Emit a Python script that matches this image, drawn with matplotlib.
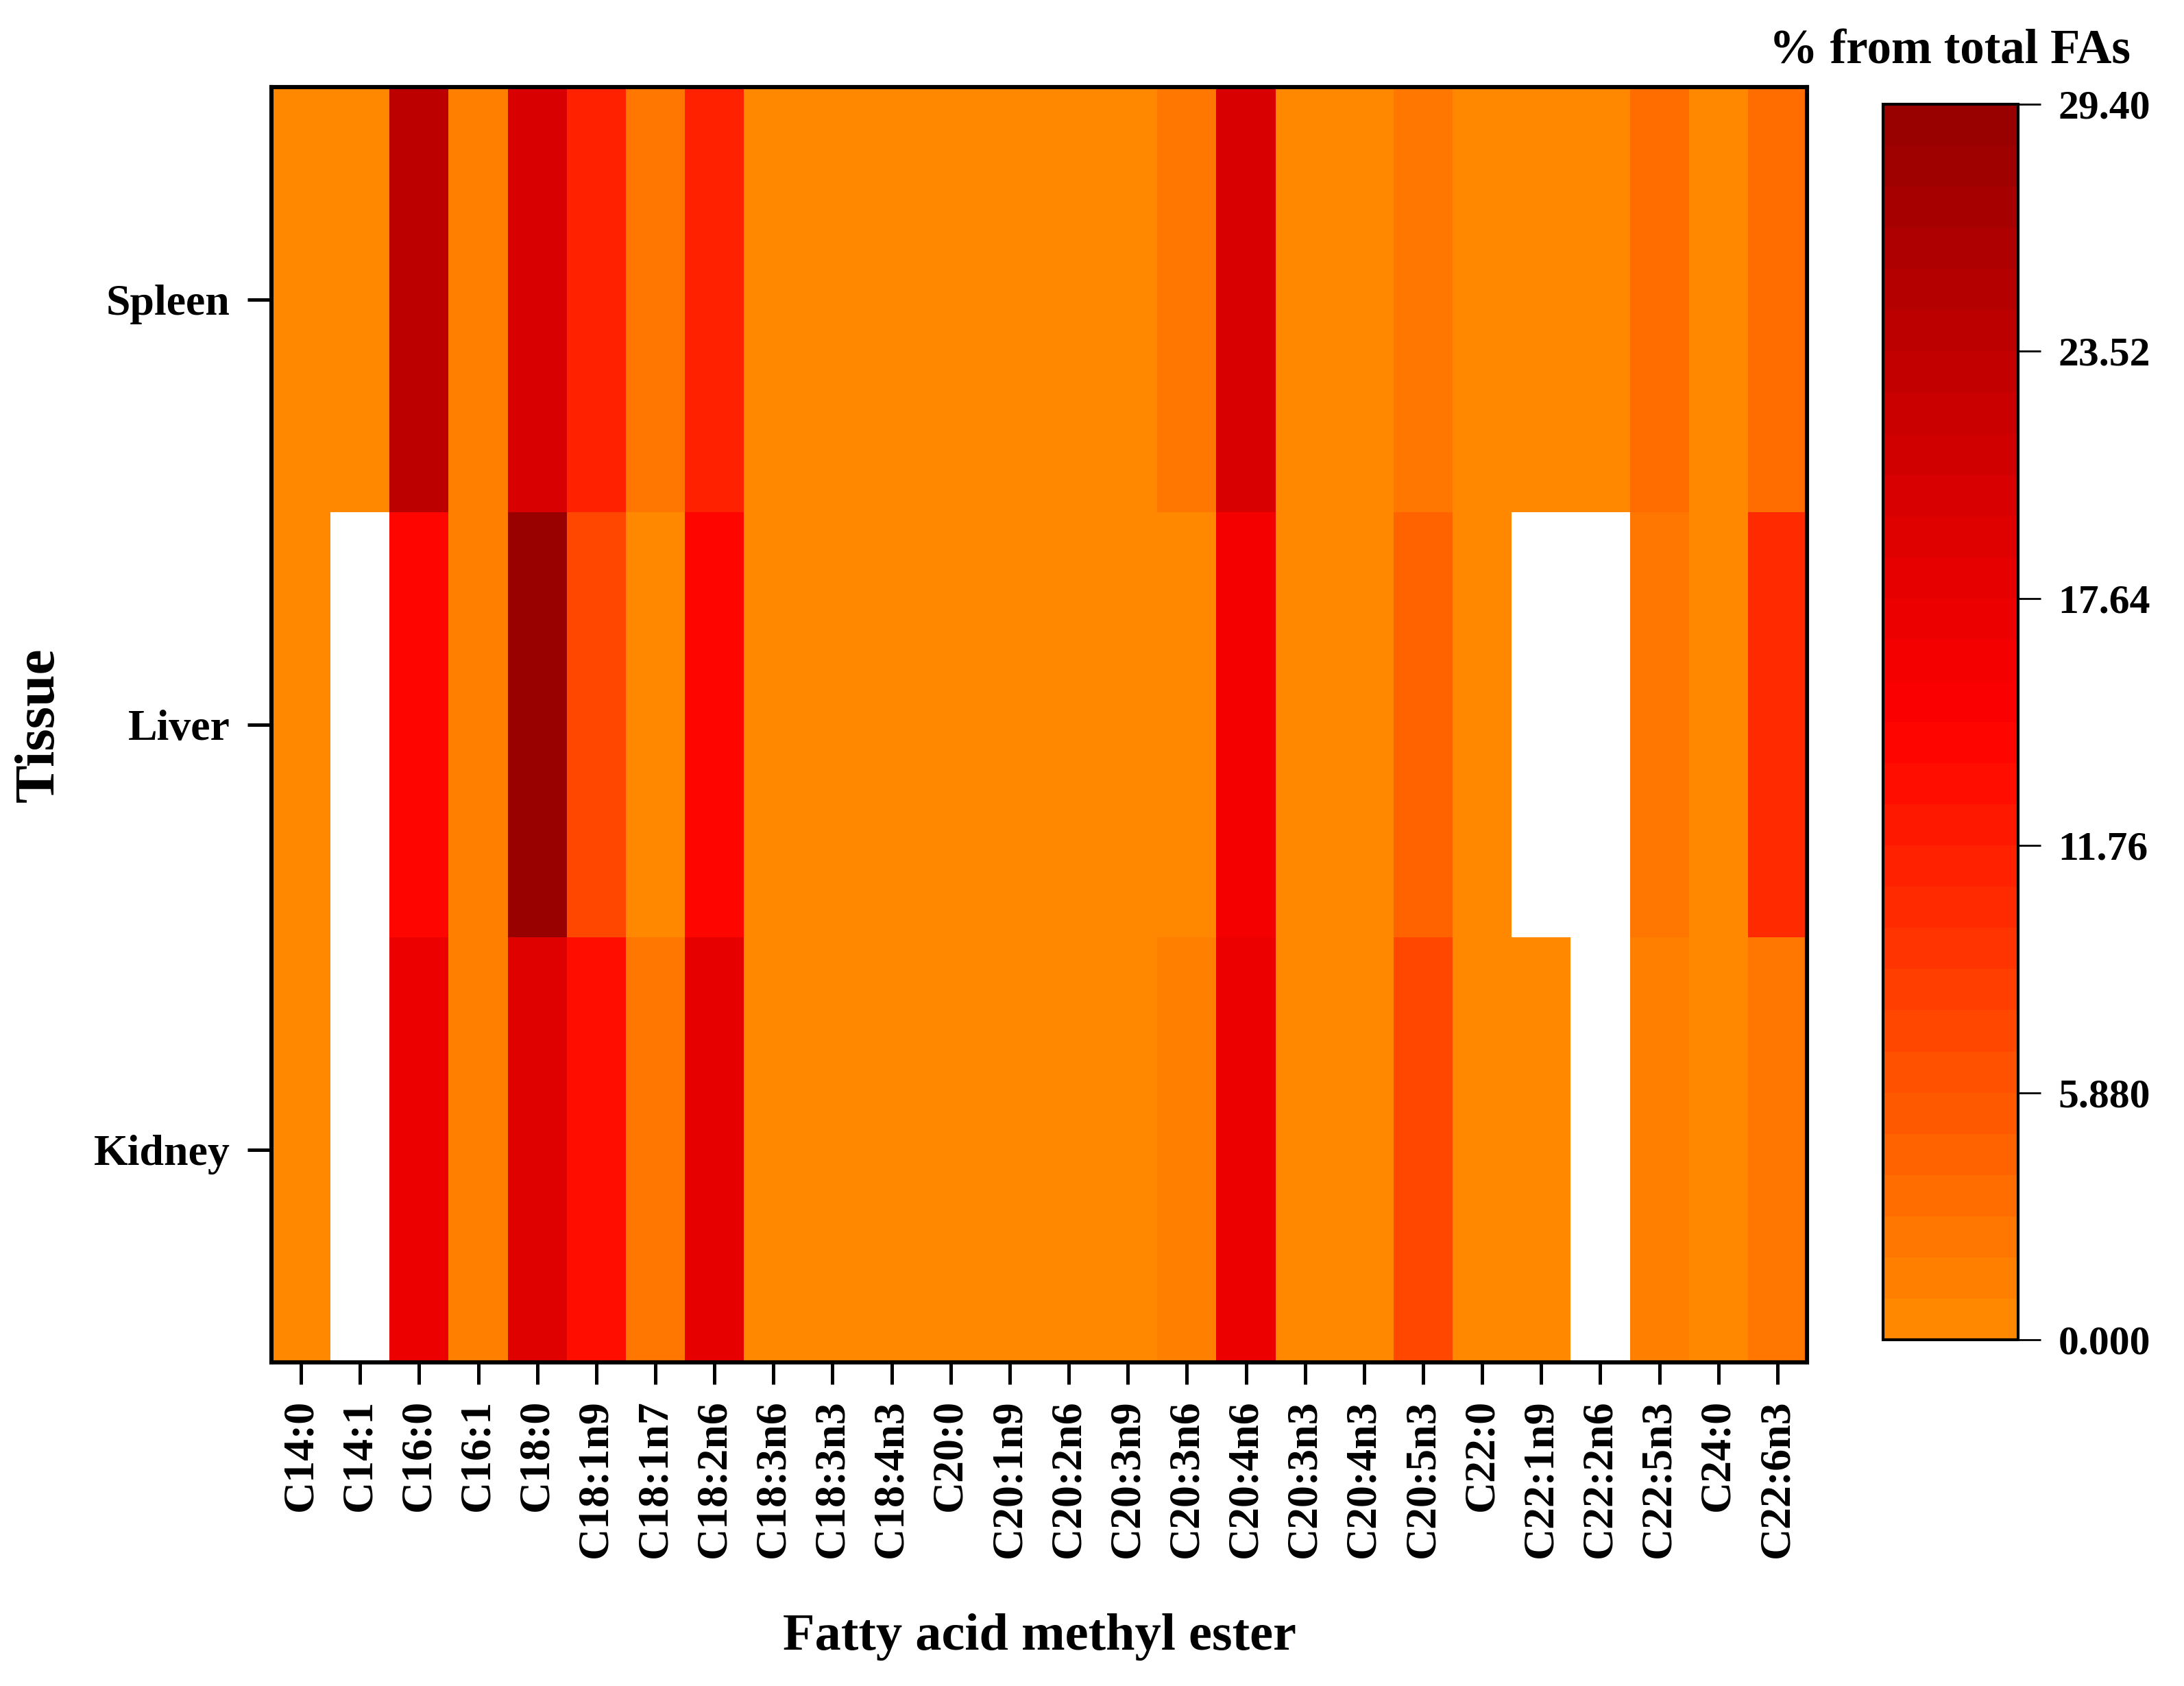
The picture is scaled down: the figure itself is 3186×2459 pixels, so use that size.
import numpy as np
import matplotlib
matplotlib.use("Agg")
import matplotlib.pyplot as plt
from matplotlib.colors import LinearSegmentedColormap, ListedColormap

# fatty acid methyl esters (columns) and tissues (rows)
fames = ["C14:0", "C14:1", "C16:0", "C16:1", "C18:0", "C18:1n9", "C18:1n7",
         "C18:2n6", "C18:3n6", "C18:3n3", "C18:4n3", "C20:0", "C20:1n9",
         "C20:2n6", "C20:3n9", "C20:3n6", "C20:4n6", "C20:3n3", "C20:4n3",
         "C20:5n3", "C22:0", "C22:1n9", "C22:2n6", "C22:5n3", "C24:0", "C22:6n3"]
tissues = ["Spleen", "Liver", "Kidney"]

# % from total FAs (nan = not detected)
spleen = [0.9, 0.5, 24.1, 1.0, 20.5, 10.9, 2.6, 10.9, 0.4, 0.4, 0.3, 0.5, 0.5,
          0.4, 0.3, 2.6, 20.5, 0.4, 0.5, 2.8, 0.7, 0.4, 0.4, 3.9, 0.8, 3.9]
liver = [0.8, np.nan, 14.5, 1.2, 29.4, 7.7, 0.9, 14.5, 0.4, 0.4, 0.3, 0.4, 0.5,
         0.4, 0.3, 0.8, 16.1, 0.4, 0.5, 4.4, 0.7, np.nan, np.nan, 2.3, 0.8, 9.8]
kidney = [0.9, np.nan, 16.9, 1.1, 19.0, 13.1, 2.8, 18.3, 0.4, 0.4, 0.3, 0.5, 0.5,
          0.4, 0.3, 1.5, 17.6, 0.4, 0.5, 7.7, 0.7, 0.5, np.nan, 1.2, 0.8, 2.8]

cbar_ticks = [0.0, 5.88, 11.76, 17.64, 23.52, 29.40]
cbar_labels = ["0.000", "5.880", "11.76", "17.64", "23.52", "29.40"]

plt.rcParams["font.family"] = ["Liberation Serif", "DejaVu Serif"]
plt.rcParams["font.weight"] = "bold"

base = LinearSegmentedColormap.from_list(
    "fa", [(1.0, 0.535, 0.0), (1.0, 0.0, 0.0), (0.6, 0.0, 0.0)])
cmap = ListedColormap(base(np.linspace(0, 1, 30)))
cmap.set_bad("white")

data = np.ma.masked_invalid(np.array([spleen, liver, kidney]))

W, H = 3186, 2459
L, R, T, B = 396, 2636, 127, 1987
fig = plt.figure(figsize=(W / 200, H / 200), dpi=200)
ax = fig.add_axes([L / W, 1 - B / H, (R - L) / W, (B - T) / H])
cax = fig.add_axes([2747 / W, 1 - 1954 / H, (2944 - 2747) / W, (1954 - 152) / H])

mesh = ax.pcolormesh(np.arange(len(fames) + 1), np.arange(len(tissues) + 1),
                     data, cmap=cmap, vmin=0, vmax=29.4)
ax.set_xlim(0, len(fames))
ax.set_ylim(len(tissues), 0)
ax.set_xticks(np.arange(len(fames)) + 0.5)
ax.set_xticklabels(fames, rotation=90, fontsize=23, fontweight="bold")
ax.set_yticks(np.arange(len(tissues)) + 0.5)
ax.set_yticklabels(tissues, fontsize=23, fontweight="bold")
ax.tick_params(axis="x", length=11.5, width=1.8, pad=8)
ax.tick_params(axis="y", length=12.6, width=1.8, pad=9)
for s in ax.spines.values():
    s.set_linewidth(2.2)
ax.set_xlabel("Fatty acid methyl ester", fontsize=27.5, fontweight="bold")
ax.xaxis.set_label_coords(0.5, -(2353 - B) / (B - T))
ax.set_ylabel("Tissue", fontsize=30, fontweight="bold")
ax.yaxis.set_label_coords(-(L - 96) / (R - L), 0.5)

cb = fig.colorbar(mesh, cax=cax, ticks=cbar_ticks)
cb.ax.set_yticklabels(cbar_labels, fontsize=21.5, fontweight="bold")
cb.ax.tick_params(length=12, width=1.0, pad=9)
cb.outline.set_linewidth(1.5)

fig.text(3108 / W, 1 - 75 / H, "% from total FAs", ha="right", va="center",
         fontsize=25.5, fontweight="bold")

fig.savefig("out.png", dpi=200)
